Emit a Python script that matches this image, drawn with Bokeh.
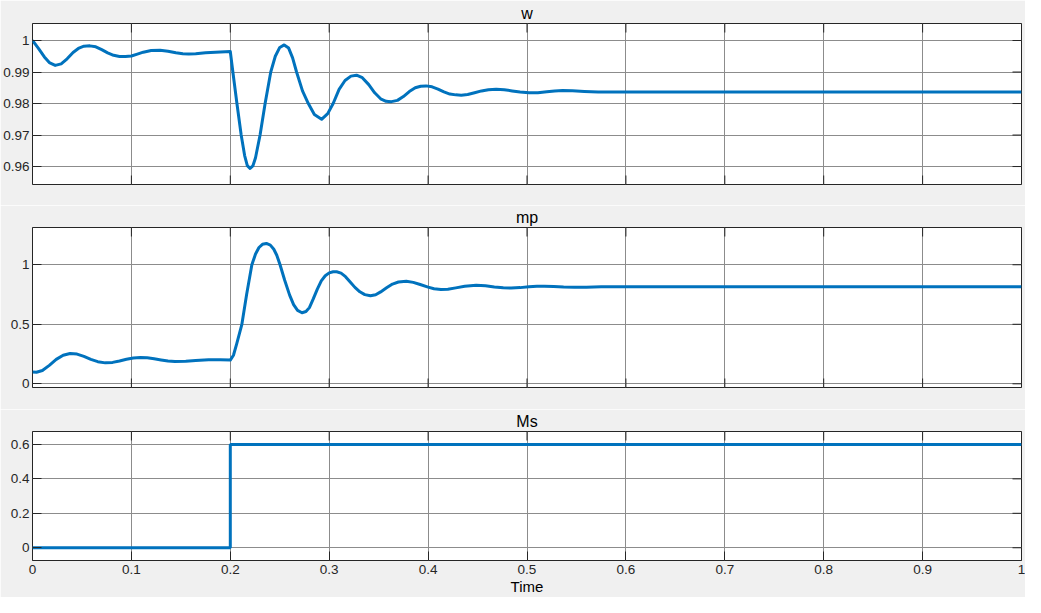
import math
from bokeh.plotting import figure
from bokeh.models import Range1d, PrintfTickFormatter
from bokeh.layouts import column
from bokeh.embed import file_html
from bokeh.resources import INLINE

# ---------------- data ----------------
titles = ["w", "mp", "Ms"]
x_label = "Time"
x_ticks = [0, 0.1, 0.2, 0.3, 0.4, 0.5, 0.6, 0.7, 0.8, 0.9, 1.0]
w_ticks = [0.96, 0.97, 0.98, 0.99, 1.0]
mp_ticks = [0, 0.5, 1.0]
ms_ticks = [0, 0.2, 0.4, 0.6]

w_t = [0, 0.006, 0.012, 0.017, 0.023, 0.029, 0.035, 0.041, 0.047, 0.052,
       0.058, 0.064, 0.070, 0.076, 0.082, 0.088, 0.094, 0.100, 0.106, 0.112,
       0.120, 0.129, 0.137, 0.145, 0.152, 0.158, 0.165, 0.175, 0.185, 0.200,
       0.2026, 0.2067, 0.211, 0.2145, 0.2172, 0.220, 0.2228, 0.2255, 0.2301,
       0.2352, 0.2409, 0.2455, 0.2500, 0.2545, 0.2590, 0.2630, 0.2670, 0.2730,
       0.2789, 0.2850, 0.2923, 0.2985, 0.3040, 0.3100, 0.3160, 0.3220, 0.3276,
       0.3335, 0.3400, 0.3460, 0.3520, 0.3575, 0.3629, 0.3690, 0.3750, 0.3810,
       0.3870, 0.3925, 0.3980, 0.4040, 0.4100, 0.4160, 0.4220, 0.4280, 0.4335,
       0.4400, 0.4470, 0.4540, 0.4610, 0.4688, 0.4770, 0.4850, 0.4930, 0.5020,
       0.5110, 0.5200, 0.5280, 0.5360, 0.5460, 0.5580, 0.5720, 0.5880, 0.6050,
       0.7000, 0.8000, 0.9000, 1.0000]
w_v = [1.0, 0.9975, 0.9948, 0.9930, 0.9921, 0.9926, 0.9942, 0.9962, 0.9976, 0.9982,
       0.9983, 0.9980, 0.9971, 0.9961, 0.9953, 0.9949, 0.9949, 0.9951, 0.9957, 0.9963,
       0.9968, 0.9969, 0.9966, 0.9961, 0.9958, 0.9957, 0.9958, 0.9961, 0.9963, 0.9965,
       0.9900, 0.9800, 0.9700, 0.9635, 0.9603, 0.9594, 0.9602, 0.9628, 0.9700,
       0.9800, 0.9900, 0.9950, 0.9978, 0.9986, 0.9976, 0.9945, 0.9900, 0.9840,
       0.9800, 0.9765, 0.9750, 0.9768, 0.9800, 0.9845, 0.9873, 0.9887, 0.9890,
       0.9882, 0.9860, 0.9834, 0.9815, 0.9807, 0.9806, 0.9810, 0.9822, 0.9838,
       0.9850, 0.9855, 0.9856, 0.9853, 0.9846, 0.9837, 0.9830, 0.98275, 0.98266,
       0.98285, 0.9834, 0.9840, 0.9844, 0.98456, 0.9844, 0.9840, 0.98365, 0.98342,
       0.98345, 0.98375, 0.9840, 0.98412, 0.98405, 0.98385, 0.98365, 0.98362, 0.98368,
       0.98368, 0.98368, 0.98368, 0.98368]

mp_t = [0, 0.004, 0.010, 0.017, 0.024, 0.031, 0.038, 0.045, 0.052, 0.059,
        0.066, 0.0736, 0.081, 0.088, 0.095, 0.102, 0.109, 0.116, 0.123, 0.130,
        0.137, 0.144, 0.155, 0.165, 0.178, 0.190, 0.200,
        0.2032, 0.2066, 0.2117, 0.2165, 0.2218, 0.2255, 0.2290, 0.2325, 0.2365,
        0.2405, 0.2440, 0.2470, 0.2503, 0.2550, 0.2600, 0.2640, 0.2680, 0.2725,
        0.2765, 0.2800, 0.2840, 0.2880, 0.2920, 0.2960, 0.3000, 0.3040, 0.3075,
        0.3120, 0.3165, 0.3210, 0.3260, 0.3310, 0.3360, 0.3417, 0.3470, 0.3520,
        0.3580, 0.3640, 0.3700, 0.3780, 0.3850, 0.3920, 0.4000, 0.4060, 0.4130,
        0.4200, 0.4280, 0.4370, 0.4486, 0.4580, 0.4670, 0.4760, 0.4840, 0.4930,
        0.5020, 0.5100, 0.5175, 0.5270, 0.5370, 0.5480, 0.5600, 0.5750, 0.5900,
        0.6100, 0.7000, 0.8000, 0.9000, 1.0000]
mp_v = [0.100, 0.097, 0.112, 0.155, 0.205, 0.240, 0.255, 0.250, 0.230, 0.205,
        0.186, 0.176, 0.180, 0.192, 0.206, 0.216, 0.221, 0.218, 0.210, 0.200,
        0.191, 0.187, 0.189, 0.196, 0.203, 0.203, 0.199,
        0.240, 0.339, 0.500, 0.750, 1.000, 1.090, 1.145, 1.172, 1.179,
        1.165, 1.130, 1.080, 1.000, 0.870, 0.745, 0.665, 0.617, 0.597,
        0.607, 0.640, 0.715, 0.795, 0.865, 0.908, 0.932, 0.941, 0.941,
        0.930, 0.900, 0.857, 0.810, 0.773, 0.749, 0.739, 0.748, 0.772,
        0.806, 0.838, 0.855, 0.861, 0.852, 0.834, 0.812, 0.798, 0.792,
        0.795, 0.806, 0.820, 0.828, 0.824, 0.814, 0.806, 0.804, 0.808,
        0.815, 0.819, 0.820, 0.817, 0.813, 0.811, 0.812, 0.815, 0.816,
        0.816, 0.815, 0.815, 0.815, 0.815]

ms_t = [0, 0.2, 1.0]
ms_v = [0, 0.6, 0.6]

# ---------------- style ----------------
FONT = "Liberation Sans"
BG = "#f0f0f0"
INK = "#262626"
LINE = "#0072BD"
GRID = "#8c8c8c"
W = 1025
TICK = 9


def make_panel(title, height, top, bottom, yr, yticks, show_x):
    p = figure(width=W, height=height, output_backend="svg", toolbar_location=None,
               x_range=Range1d(0, 1), y_range=Range1d(*yr),
               min_border_left=32, min_border_right=4,
               min_border_top=top, min_border_bottom=bottom)
    p.border_fill_color = BG
    p.background_fill_color = "white"
    p.outline_line_color = INK
    p.outline_line_width = 1
    p.outline_line_alpha = 1

    p.title.text = title
    p.title.align = "center"
    p.title.text_font = FONT
    p.title.text_font_size = "16px"
    p.title.text_font_style = "normal"
    p.title.text_color = "#000000"
    p.title.standoff = 3

    fmt = PrintfTickFormatter(format="%g")
    for ax, ticks in ((p.xaxis[0], x_ticks), (p.yaxis[0], yticks)):
        ax.ticker = ticks
        ax.formatter = fmt
        ax.axis_line_color = None
        ax.major_tick_in = TICK
        ax.major_tick_out = 0
        ax.major_tick_line_color = INK
        ax.minor_tick_line_color = None
        ax.major_label_text_font = FONT
        ax.major_label_text_font_size = "13.5px"
        ax.major_label_text_color = INK
    p.yaxis[0].major_label_standoff = 3
    p.xaxis[0].major_label_standoff = 4
    if show_x:
        p.xaxis[0].axis_label = x_label
        p.xaxis[0].axis_label_text_font = FONT
        p.xaxis[0].axis_label_text_font_size = "15px"
        p.xaxis[0].axis_label_text_font_style = "normal"
        p.xaxis[0].axis_label_text_color = "#000000"
        p.xaxis[0].axis_label_standoff = 1
    else:
        p.xaxis[0].visible = False

    p.xgrid.ticker = x_ticks
    p.ygrid.ticker = yticks
    for g in (p.xgrid[0], p.ygrid[0]):
        g.grid_line_color = GRID
        g.grid_line_width = 1
        g.grid_line_alpha = 1

    # inward tick marks on the boxed edges (clipped to the frame)
    nx, ny = len(x_ticks), len(yticks)
    p.scatter(x_ticks, [yr[1]] * nx, marker="dash", size=2 * TICK, angle=math.pi / 2,
              line_color=INK, line_width=1)
    if not show_x:
        p.scatter(x_ticks, [yr[0]] * nx, marker="dash", size=2 * TICK, angle=math.pi / 2,
                  line_color=INK, line_width=1)
    p.scatter([x_ticks[-1]] * ny, yticks, marker="dash", size=2 * TICK,
              line_color=INK, line_width=1)
    return p


w_range = (0.9543, 1.0054)
mp_range = (-0.031, 1.313)
ms_range = (-0.074, 0.675)

p1 = make_panel(titles[0], 205, 23, 21, w_range, w_ticks, False)
p1.line(w_t, w_v, line_width=3, color=LINE, line_join="round")

p2 = make_panel(titles[1], 204, 22, 22, mp_range, mp_ticks, False)
p2.line(mp_t, mp_v, line_width=3, color=LINE, line_join="round")

p3 = make_panel(titles[2], 188, 22, 37, ms_range, ms_ticks, True)
p3.step(ms_t, ms_v, mode="after", line_width=3, color=LINE)

layout = column(p1, p2, p3, spacing=0)

open("out.html", "w").write(file_html(layout, INLINE))
